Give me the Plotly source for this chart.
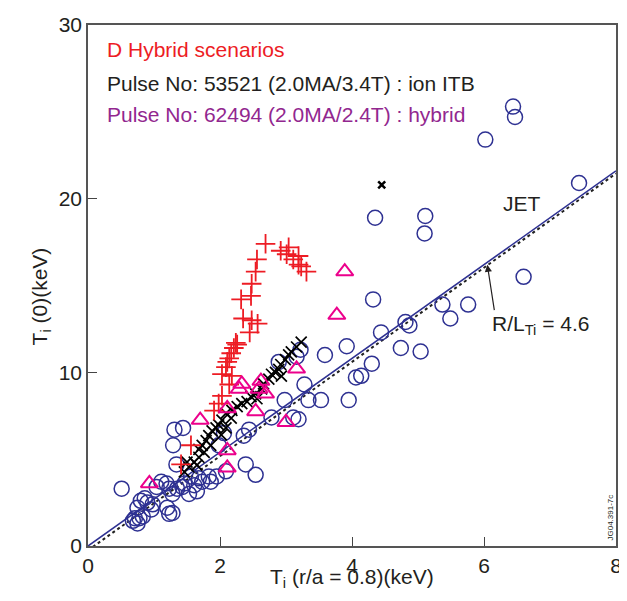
import plotly.graph_objects as go

# JET database (open circles)
jet_x = [6.44, 6.47, 6.02, 7.44, 5.11, 5.10, 4.35, 6.60, 5.37, 5.49, 5.76, 4.32, 4.81, 4.87, 4.44,
         3.92, 3.59, 4.74, 5.04, 4.30, 4.14, 4.06, 3.22, 3.16, 2.89, 3.28, 3.34, 3.53, 3.95, 3.19,
         2.98, 3.11, 2.78, 2.44, 2.36, 2.06, 1.98, 2.39, 2.54, 1.44, 1.31, 1.29, 1.34, 0.51,
         0.80, 0.86, 0.90, 0.98, 0.75, 0.71, 0.78, 0.83, 0.75, 0.68, 1.04, 1.11, 1.19, 1.23, 1.28,
         1.35, 1.43, 1.46, 1.56, 1.53, 1.61, 1.68, 1.73, 1.83, 1.86, 1.95, 2.09, 1.65, 1.20, 1.23,
         1.28, 0.96]
jet_y = [25.3, 24.7, 23.4, 20.9, 19.0, 18.0, 18.9, 15.5, 13.9, 13.1, 13.9, 14.2, 12.9, 12.7, 12.3,
         11.5, 11.0, 11.4, 11.2, 10.5, 9.8, 9.7, 11.3, 10.9, 10.6, 9.3, 8.4, 8.4, 8.4, 7.3,
         8.4, 7.4, 7.4, 6.7, 6.35, 6.5, 5.8, 4.7, 4.1, 6.8, 6.7, 5.8, 4.7, 3.3,
         2.6, 2.75, 2.5, 2.4, 2.2, 1.6, 1.6, 1.7, 1.3, 1.45, 3.4, 3.7, 3.6, 3.3, 3.0,
         3.3, 3.4, 3.6, 4.0, 3.0, 3.5, 3.9, 3.7, 4.0, 3.7, 4.0, 4.3, 3.15, 2.2, 1.85,
         1.9, 2.1]

# Pulse 53521 ion ITB (black x)
itb_x = [3.23, 3.16, 3.08, 3.04, 2.99, 2.92, 2.89, 2.84, 2.78, 2.93, 2.74, 2.66, 2.63, 2.54, 2.47,
         2.56, 2.41, 2.33, 2.26, 2.18, 2.09, 2.17, 2.03, 1.98, 1.94, 2.09, 1.88, 1.83, 2.02, 1.79,
         1.73, 1.86, 1.68, 1.76, 1.68, 1.61, 1.65, 1.53, 1.46, 1.50]
itb_y = [11.74, 11.46, 11.18, 11.01, 10.73, 10.45, 10.17, 10.0, 9.89, 9.78, 9.61, 9.33, 9.04, 8.76, 8.6,
         8.48, 8.31, 8.2, 8.03, 7.81, 7.64, 7.36, 7.25, 6.97, 6.8, 6.8, 6.63, 6.35, 6.4, 6.07,
         5.79, 5.79, 5.56, 5.39, 5.11, 4.83, 4.66, 4.55, 4.27, 4.83]
itb_peak_x = [4.45]
itb_peak_y = [20.8]

# D hybrid scenarios (red +)
hyb_x = [2.69, 2.92, 3.04, 3.01, 3.11, 3.19, 3.19, 3.23, 3.31, 2.56, 2.54, 2.48, 2.47, 2.32, 2.35,
         2.48, 2.57, 2.45, 2.24, 2.26, 2.21, 2.17, 2.14, 2.11, 2.09, 2.03, 2.18, 2.14, 2.03, 1.98,
         1.91, 1.56, 1.41]
hyb_y = [17.4, 17.0, 17.2, 16.8, 16.5, 16.7, 16.2, 16.1, 15.8, 16.5, 15.8, 15.1, 14.4, 14.2, 13.1,
         13.0, 12.8, 12.3, 11.7, 11.6, 11.4, 11.1, 10.8, 10.6, 10.3, 9.9, 9.8, 9.3, 8.65, 8.2,
         7.8, 5.8, 4.7]

# Pulse 62494 hybrid (magenta triangles)
p62_x = [3.89, 3.77, 3.16, 3.0, 2.33, 2.29, 2.62, 2.59, 2.69, 2.11, 2.54, 1.70, 2.11, 2.11, 0.93]
p62_y = [15.8, 13.3, 10.2, 7.13, 9.33, 9.04, 9.5, 9.04, 8.76, 7.92, 7.75, 7.25, 5.5, 4.5, 3.6]

# R/L_Ti = 4.6 line
line_x = [0, 8]
line_y = [0, 21.6]
dot_y = [-0.25, 21.45]

navy = "#2e3192"
fig = go.Figure()
fig.add_trace(go.Scatter(x=line_x, y=dot_y, mode="lines",
                         line=dict(color="#222222", width=2, dash="dot"), hoverinfo="skip"))
fig.add_trace(go.Scatter(x=line_x, y=line_y, mode="lines",
                         line=dict(color=navy, width=1.6)))
fig.add_trace(go.Scatter(x=jet_x, y=jet_y, mode="markers",
                         marker=dict(symbol="circle-open", size=15, color=navy,
                                     line=dict(width=1.5, color=navy))))
fig.add_trace(go.Scatter(x=itb_x, y=itb_y, mode="markers",
                         marker=dict(symbol="x-thin-open", size=11, color="black",
                                     line=dict(width=1.7, color="black"))))
fig.add_trace(go.Scatter(x=itb_peak_x, y=itb_peak_y, mode="markers",
                         marker=dict(symbol="x-thin-open", size=7, color="black",
                                     line=dict(width=2.5, color="black"))))
fig.add_trace(go.Scatter(x=hyb_x, y=hyb_y, mode="markers",
                         marker=dict(symbol="cross-thin-open", size=14, color="#ed1c24",
                                     line=dict(width=1.8, color="#ed1c24"))))
fig.add_trace(go.Scatter(x=p62_x, y=p62_y, mode="markers",
                         marker=dict(symbol="triangle-up-open", size=15, color="#ec008c",
                                     line=dict(width=2, color="#ec008c"))))

font = "Liberation Sans, Arial, sans-serif"
ink = "#231f20"
annots = [
    dict(x=0.26, y=28.6, text="D Hybrid scenarios", color="#ed1c24"),
    dict(x=0.26, y=26.65, text="Pulse No: 53521 (2.0MA/3.4T) : ion ITB", color=ink),
    dict(x=0.26, y=24.85, text="Pulse No: 62494 (2.0MA/2.4T) : hybrid", color="#92278f"),
]
ann_list = []
for a in annots:
    ann_list.append(dict(x=a["x"], y=a["y"], xref="x", yref="y", text=a["text"], showarrow=False,
                         xanchor="left", yanchor="middle",
                         font=dict(family=font, size=21, color=a["color"])))
ann_list.append(dict(x=6.57, y=19.7, xref="x", yref="y", text="JET", showarrow=False,
                     font=dict(family=font, size=21, color=ink)))
ann_list.append(dict(x=6.87, y=12.75, xref="x", yref="y", text="R/L<sub>Ti</sub> = 4.6",
                     showarrow=False, font=dict(family=font, size=21, color=ink)))
ann_list.append(dict(x=6.05, y=16.2, xref="x", yref="y", ax=6.16, ay=13.5, axref="x", ayref="y",
                     text="", showarrow=True, arrowhead=2, arrowsize=1.2, arrowwidth=1.2,
                     arrowcolor=ink))
ann_list.append(dict(x=1.0, y=0.0, xref="paper", yref="paper", text="JG04.391-7c",
                     showarrow=False, textangle=-90, xanchor="right", yanchor="bottom",
                     xshift=-1, yshift=4, borderpad=0, font=dict(family=font, size=8, color=ink)))
# axis titles
ann_list.append(dict(x=4.0, y=-0.062, xref="x", yref="paper", text="T<sub>i</sub> (r/a = 0.8)(keV)",
                     showarrow=False, xanchor="center", yanchor="middle",
                     font=dict(family=font, size=21, color=ink)))
ann_list.append(dict(x=-0.09, y=14.4, xref="paper", yref="y", text="T<sub>i</sub> (0)(keV)",
                     showarrow=False, textangle=-90, xanchor="center", yanchor="middle",
                     font=dict(family=font, size=21, color=ink)))

fig.update_layout(
    width=619, height=585,
    margin=dict(l=80, r=9, t=5, b=47),
    paper_bgcolor="white", plot_bgcolor="white",
    showlegend=False,
    font=dict(family=font, color=ink),
    annotations=ann_list,
    xaxis=dict(range=[0, 8], tickvals=[0, 2, 4, 6, 8], ticks="inside", ticklen=9,
               tickcolor="#444", showgrid=False, zeroline=False, showline=True,
               linecolor="#555", linewidth=1.5, mirror=True, ticklabeloverflow="allow",
               tickfont=dict(size=21, family=font, color=ink)),
    yaxis=dict(range=[0, 30], tickvals=[0, 10, 20, 30], ticks="inside", ticklen=9,
               tickcolor="#444", showgrid=False, zeroline=False, showline=True,
               linecolor="#555", linewidth=1.5, mirror=True, ticklabeloverflow="allow",
               tickfont=dict(size=21, family=font, color=ink)),
)

fig.write_html("out.html")
